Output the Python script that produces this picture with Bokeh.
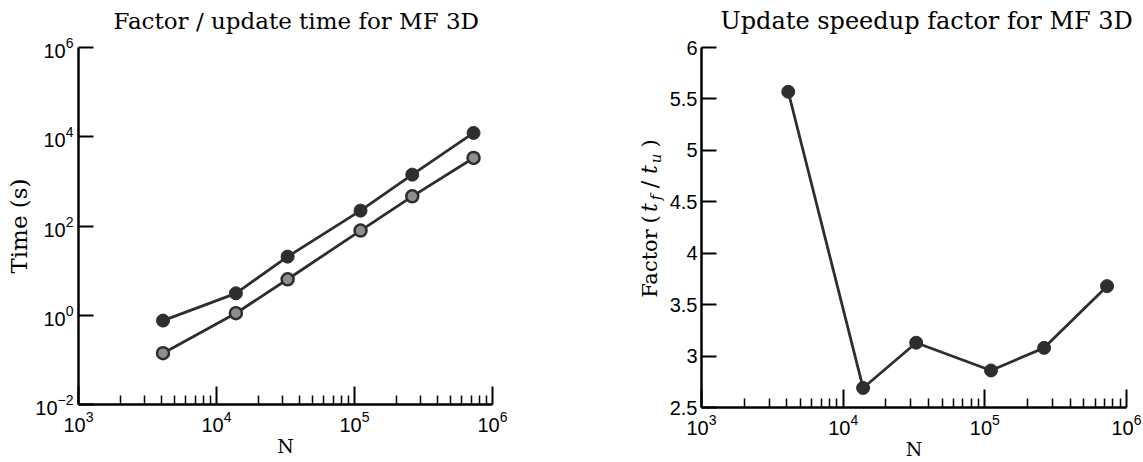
import math
from bokeh.plotting import figure
from bokeh.layouts import row, column
from bokeh.models import FixedTicker, LogTickFormatter, Range1d
from bokeh.core.properties import value
from bokeh.embed import file_html
from bokeh.resources import INLINE

# ---- data ----
N = [4096, 13824, 32768, 110592, 262144, 729000]
t_factor = [0.76, 3.1, 20.6, 221, 1416, 12160]
t_update = [0.141, 1.11, 6.4, 78.9, 462, 3350]
speedup = [5.57, 2.69, 3.13, 2.86, 3.08, 3.68]

x_major = [1e3, 1e4, 1e5, 1e6]
y_major_left = [1e-2, 1e0, 1e2, 1e4, 1e6]
y_major_right = [2.5, 3, 3.5, 4, 4.5, 5, 5.5, 6]

title_left = "Factor / update time for MF 3D"
title_right = "Update speedup factor for MF 3D"

DARK = "#2e2e2e"
GRAY = "#8e8e8e"
SERIF = "DejaVu Serif"
SANS = "Liberation Sans"

x_minor = [m * 10 ** e for e in range(3, 6) for m in range(2, 10)]

TOP_H = 34
H = 462 - TOP_H


def style(p, xlabel, ylabel):
    p.outline_line_color = None
    p.xgrid.grid_line_color = None
    p.ygrid.grid_line_color = None
    for ax in (p.xaxis[0], p.yaxis[0]):
        ax.axis_line_width = 2.5
        ax.axis_line_color = "black"
        ax.major_tick_line_width = 2
        ax.major_tick_line_color = "black"
        ax.minor_tick_line_width = 1.5
        ax.minor_tick_line_color = "black"
        ax.major_tick_out = 0
        ax.minor_tick_out = 0
        ax.major_label_text_font = SANS
        ax.major_label_text_font_size = "20px"
        ax.major_label_text_color = "black"
        ax.axis_label_text_font = SERIF
        ax.axis_label_text_font_style = "normal"
        ax.axis_label_text_color = "black"
    xa = p.xaxis[0]
    xa.ticker = FixedTicker(ticks=x_major, minor_ticks=x_minor)
    xa.formatter = LogTickFormatter()
    xa.major_tick_in = 18
    xa.minor_tick_in = 9
    xa.major_label_standoff = 6
    xa.axis_label = xlabel
    xa.axis_label_text_font_size = "19px"
    xa.axis_label_standoff = 0
    ya = p.yaxis[0]
    ya.major_tick_in = 15
    ya.minor_tick_in = 0
    ya.axis_label = ylabel
    ya.axis_label_text_font_size = "23px"


# ---- titles strip ----
top = figure(width=1143, height=TOP_H, x_range=Range1d(0, 1143), y_range=Range1d(0, TOP_H),
             x_axis_location=None, y_axis_location=None,
             min_border=0, output_backend="svg", toolbar_location=None)
top.grid.visible = False
top.outline_line_color = None
top.text(x=[113], y=[TOP_H - 20], text=[title_left], text_font=value(SERIF),
         text_font_size="23px", text_color="black", text_baseline="middle", text_align="left")
top.text(x=[720], y=[TOP_H - 20], text=[title_right], text_font=value(SERIF),
         text_font_size="24px", text_color="black", text_baseline="middle", text_align="left")

# ---- left: factor / update time ----
p1 = figure(width=572, height=H, frame_width=414, frame_height=357,
            x_axis_type="log", y_axis_type="log",
            x_range=Range1d(1e3, 1e6), y_range=Range1d(1e-2, 1e6),
            min_border_left=78, min_border_right=80, min_border_top=13, min_border_bottom=H - 13 - 357,
            output_backend="svg", toolbar_location=None)
style(p1, "N", "Time (s)")
p1.yaxis[0].ticker = FixedTicker(ticks=y_major_left, minor_ticks=[])
p1.yaxis[0].formatter = LogTickFormatter()
p1.yaxis[0].major_label_standoff = 5
p1.yaxis[0].axis_label_standoff = 0

p1.line(N, t_factor, line_color=DARK, line_width=2.8)
p1.scatter(N, t_factor, size=13, fill_color=DARK, line_color=DARK, line_width=1)
p1.line(N, t_update, line_color=DARK, line_width=2.8)
p1.scatter(N, t_update, size=12, fill_color=GRAY, line_color=DARK, line_width=2.5)

# ---- composite y label for the right plot: "Factor (t_f / t_u)" ----
LW = 94
X0 = 572                # canvas left of the label strip (page px)
F_TOP = TOP_H + 13      # frame top (page px), same as the left plot
F_BOT = F_TOP + 357     # frame bottom (page px)
lab = figure(width=LW, height=H, frame_height=357,
             min_border_left=0, min_border_right=0, min_border_top=13, min_border_bottom=H - 13 - 357,
             x_range=Range1d(0, LW), y_range=Range1d(462 - F_BOT, 462 - F_TOP),
             x_axis_location=None, y_axis_location=None,
             output_backend="svg", toolbar_location=None)
lab.grid.visible = False
lab.outline_line_color = None
# (text, centre page x, centre page y, size, style)
pieces = [
    ("Factor", 649, 263, "21px", "normal"),
    ("(", 649, 219, "21px", "normal"),
    ("t", 649, 207, "22px", "italic"),
    ("f", 655, 197, "15px", "italic"),
    ("/", 649, 184, "22px", "normal"),
    ("t", 649, 169, "22px", "italic"),
    ("u", 655, 158, "15px", "italic"),
    (")", 649, 143, "21px", "normal"),
]
for txt, sx, sy, fs, st in pieces:
    lab.text(x=[sx - X0], y=[462 - sy], text=[txt], angle=math.pi / 2,
             text_font=value(SERIF), text_font_size=fs, text_font_style=st,
             text_color="black", text_baseline="middle", text_align="center")

# ---- right: speedup factor ----
p2 = figure(width=1143 - 572 - LW, height=H, frame_width=425, frame_height=360,
            x_axis_type="log",
            x_range=Range1d(1e3, 1e6), y_range=Range1d(2.5, 6),
            min_border_left=32, min_border_right=1143 - 572 - LW - 32 - 425,
            min_border_top=9, min_border_bottom=H - 9 - 360,
            output_backend="svg", toolbar_location=None)
style(p2, "N", None)
p2.yaxis[0].ticker = FixedTicker(ticks=y_major_right, minor_ticks=[])
p2.yaxis[0].major_label_standoff = 4

p2.line(N, speedup, line_color=DARK, line_width=2.8)
p2.scatter(N, speedup, size=13, fill_color=DARK, line_color=DARK, line_width=1)

layout = column(top, row(p1, lab, p2, spacing=0), spacing=0)
open("out.html", "w").write(file_html(layout, INLINE))
